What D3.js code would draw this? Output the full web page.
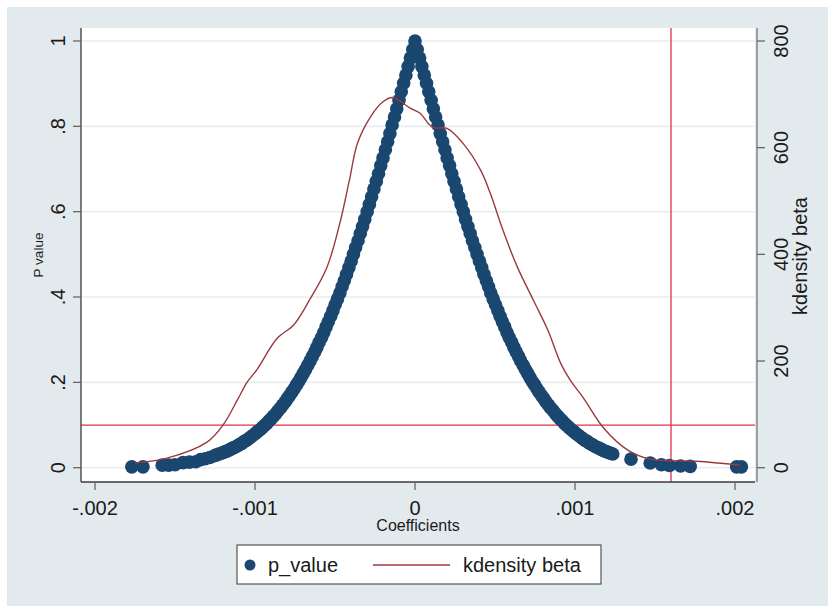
<!DOCTYPE html>
<html>
<head>
<meta charset="utf-8">
<script src="https://cdn.jsdelivr.net/npm/d3@7"></script>
<style>
  html, body { margin: 0; padding: 0; background: #ffffff; }
  svg { display: block; }
  text { font-family: "Liberation Sans", Arial, Helvetica, sans-serif; fill: #1a1a1a; }
</style>
</head>
<body>
<div id="chart"></div>
<script>
// ---------------- DATA ----------------
// p_value scatter: coefficient (beta) and its p value
const leftTailCoef = [-0.00177, -0.00170, -0.00158, -0.00154, -0.00150, -0.00145, -0.00141, -0.00137];
const leftTailP    = [0.002, 0.002, 0.006, 0.006, 0.007, 0.012, 0.013, 0.014];

const leftCoefMicro = [0,14,29,43,57,71,86,100,114,128,143,157,171,185,200,214,228,242,257,271,
  285,299,314,328,342,356,371,385,399,413,428,442,456,470,485,499,513,527,542,556,
  570,584,599,613,627,641,656,670,684,698,713,727,741,755,770,784,798,812,827,841,
  855,869,884,898,912,926,941,955,969,983,998,1012,1026,1040,1055,1069,1083,1097,1112,1126,
  1140,1154,1169,1183,1197,1211,1226,1240,1254,1283,1311,1340]; // |beta| x 1e-6, negative side
const leftP = [1.000,0.980,0.960,0.940,0.920,0.901,0.881,0.861,0.841,0.822,
  0.803,0.783,0.764,0.745,0.726,0.708,0.689,0.671,0.653,0.635,
  0.617,0.600,0.582,0.565,0.549,0.532,0.516,0.500,0.484,0.469,
  0.453,0.438,0.424,0.409,0.395,0.382,0.368,0.355,0.342,0.330,
  0.317,0.305,0.294,0.282,0.271,0.261,0.250,0.240,0.230,0.221,
  0.211,0.202,0.194,0.185,0.177,0.169,0.162,0.154,0.147,0.140,
  0.134,0.127,0.121,0.115,0.110,0.104,0.099,0.094,0.089,0.085,
  0.080,0.076,0.072,0.068,0.064,0.061,0.057,0.054,0.051,0.048,
  0.046,0.043,0.040,0.038,0.036,0.034,0.032,0.030,0.028,0.024,0.021,0.019];

const rightCoefMicro = [14,29,43,58,72,86,101,115,129,144,158,173,187,201,216,230,244,259,273,288,
  302,316,331,345,359,374,388,403,417,431,446,460,474,489,503,518,532,546,561,575,
  589,604,618,633,647,661,676,690,704,719,733,748,762,776,791,805,819,834,848,863,
  877,891,906,920,934,949,963,978,992,1006,1021,1035,1049,1064,1078,1093,1107,1121,1136,1150,
  1164,1179,1193,1208,1222,1236]; // beta x 1e-6, positive side
const rightP = [0.980,0.960,0.940,0.920,0.901,0.881,0.861,0.841,0.822,
  0.803,0.783,0.764,0.745,0.726,0.708,0.689,0.671,0.653,0.635,
  0.617,0.600,0.582,0.565,0.549,0.532,0.516,0.500,0.484,0.469,
  0.453,0.438,0.424,0.409,0.395,0.382,0.368,0.355,0.342,0.330,
  0.317,0.305,0.294,0.282,0.271,0.261,0.250,0.240,0.230,0.221,
  0.211,0.202,0.194,0.185,0.177,0.169,0.162,0.154,0.147,0.140,
  0.134,0.127,0.121,0.115,0.110,0.104,0.099,0.094,0.089,0.085,
  0.080,0.076,0.072,0.068,0.064,0.061,0.057,0.054,0.051,0.048,
  0.046,0.043,0.040,0.038,0.036,0.034,0.032];

const rightTailCoef = [0.00135, 0.00147, 0.00154, 0.00159, 0.00166, 0.00172, 0.00201, 0.00204];
const rightTailP    = [0.020, 0.011, 0.007, 0.005, 0.004, 0.003, 0.002, 0.002];

// kdensity of beta
const kdCoef = [-0.00175,-0.00155,-0.00130,-0.00120,-0.00111,-0.00105,-0.00099,-0.00086,-0.00076,-0.00066,
  -0.00055,-0.00047,-0.00041,-0.00036,-0.00028,-0.00020,-0.00014,-0.00003,0.00003,0.00011,
  0.00020,0.00030,0.00041,0.00047,0.00055,0.00064,0.00074,0.00083,0.00091,0.00097,
  0.00105,0.00118,0.00133,0.00147,0.00176,0.00203];
const kdDensity = [9,18,48,80,127,160,183,243,267,314,
  376,458,539,608,657,686,694,674,665,638,
  636,608,558,515,445,376,314,258,196,164,
  132,74,33,16,12,5];

// axes
const xTicks = [-0.002, -0.001, 0, 0.001, 0.002];
const xTickLabels = ["-.002", "-.001", "0", ".001", ".002"];
const yTicks = [0, 0.2, 0.4, 0.6, 0.8, 1];
const yTickLabels = ["0", ".2", ".4", ".6", ".8", "1"];
const y2Ticks = [0, 200, 400, 600, 800];
const y2TickLabels = ["0", "200", "400", "600", "800"];
const refP = 0.1;       // yline
const refCoef = 0.0016; // xline

// ---------------- BUILD ----------------
const points = [];
leftTailCoef.forEach((c, i) => points.push({ c, p: leftTailP[i] }));
leftCoefMicro.forEach((m, i) => points.push({ c: -m * 1e-6, p: leftP[i] }));
rightCoefMicro.forEach((m, i) => points.push({ c: m * 1e-6, p: rightP[i] }));
rightTailCoef.forEach((c, i) => points.push({ c, p: rightTailP[i] }));
const kd = kdCoef.map((c, i) => ({ c, d: kdDensity[i] }));

const W = 828, H = 611;
const plot = { left: 81, right: 755, top: 28, bottom: 482 };

const x = d3.scaleLinear().domain([-0.002, 0.002]).range([95, 735]);
const y = d3.scaleLinear().domain([0, 1]).range([467.7, 41]);
const y2 = d3.scaleLinear().domain([0, 800]).range([467.7, 41]);

const navy = "#1a476f", maroon = "#9a3a3f", red = "#e0304e";
const bg = "#e3eaee", grid = "#e6eef1";

const svg = d3.select("#chart").append("svg").attr("width", W).attr("height", H);

svg.append("rect").attr("x", 7).attr("y", 7).attr("width", W - 7).attr("height", 599).attr("fill", bg);
svg.append("rect").attr("x", plot.left).attr("y", plot.top)
  .attr("width", plot.right - plot.left).attr("height", plot.bottom - plot.top).attr("fill", "#ffffff");

// gridlines
svg.append("g").selectAll("line").data(yTicks).join("line")
  .attr("x1", plot.left).attr("x2", plot.right)
  .attr("y1", d => y(d)).attr("y2", d => y(d))
  .attr("stroke", grid).attr("stroke-width", 1.6);

// reference lines
svg.append("line").attr("x1", plot.left).attr("x2", plot.right)
  .attr("y1", y(refP)).attr("y2", y(refP)).attr("stroke", red).attr("stroke-width", 1.3);
svg.append("line").attr("x1", x(refCoef)).attr("x2", x(refCoef))
  .attr("y1", plot.top).attr("y2", plot.bottom).attr("stroke", red).attr("stroke-width", 1.3);

// scatter
svg.append("g").selectAll("circle").data(points).join("circle")
  .attr("cx", d => x(d.c)).attr("cy", d => y(d.p)).attr("r", 6.8).attr("fill", navy);

// kdensity line
const line = d3.line().x(d => x(d.c)).y(d => y2(d.d)).curve(d3.curveCatmullRom.alpha(0.5));
svg.append("path").datum(kd).attr("d", line).attr("fill", "none")
  .attr("stroke", maroon).attr("stroke-width", 1.4);

// axes lines
const axisCol = "#3a3a3a";
svg.append("line").attr("x1", plot.left).attr("x2", plot.left).attr("y1", plot.top).attr("y2", plot.bottom)
  .attr("stroke", axisCol).attr("stroke-width", 1.3);
svg.append("line").attr("x1", plot.left).attr("x2", plot.right).attr("y1", plot.bottom).attr("y2", plot.bottom)
  .attr("stroke", axisCol).attr("stroke-width", 1.3);
svg.append("line").attr("x1", 757).attr("x2", 757).attr("y1", plot.top).attr("y2", plot.bottom)
  .attr("stroke", "#777").attr("stroke-width", 1.3);

// left ticks & labels
const gl = svg.append("g");
gl.selectAll("line").data(yTicks).join("line")
  .attr("x1", 73).attr("x2", plot.left).attr("y1", d => y(d)).attr("y2", d => y(d))
  .attr("stroke", "#666").attr("stroke-width", 1.3);
gl.selectAll("text").data(yTicks).join("text")
  .attr("transform", d => `translate(65,${y(d)}) rotate(-90)`)
  .attr("text-anchor", "middle").attr("font-size", 20)
  .text((d, i) => yTickLabels[i]);

// right ticks & labels
const gr = svg.append("g");
gr.selectAll("line").data(y2Ticks).join("line")
  .attr("x1", 757).attr("x2", 765).attr("y1", d => y2(d)).attr("y2", d => y2(d))
  .attr("stroke", "#666").attr("stroke-width", 1.3);
gr.selectAll("text").data(y2Ticks).join("text")
  .attr("transform", d => `translate(788,${y2(d)}) rotate(-90)`)
  .attr("text-anchor", "middle").attr("font-size", 20)
  .text((d, i) => y2TickLabels[i]);

// bottom ticks & labels
const gb = svg.append("g");
gb.selectAll("line").data(xTicks).join("line")
  .attr("x1", d => x(d)).attr("x2", d => x(d)).attr("y1", plot.bottom).attr("y2", 490)
  .attr("stroke", "#666").attr("stroke-width", 1.3);
gb.selectAll("text").data(xTicks).join("text")
  .attr("x", d => x(d)).attr("y", 515)
  .attr("text-anchor", "middle").attr("font-size", 20)
  .text((d, i) => xTickLabels[i]);

// axis titles
svg.append("text").attr("x", 418).attr("y", 531).attr("text-anchor", "middle")
  .attr("font-size", 16).text("Coefficients");
svg.append("text").attr("transform", "translate(43,255) rotate(-90)").attr("text-anchor", "middle")
  .attr("font-size", 13.5).text("P value");
svg.append("text").attr("transform", "translate(807,256) rotate(-90)").attr("text-anchor", "middle")
  .attr("font-size", 20).text("kdensity beta");

// legend
const lg = svg.append("g");
lg.append("rect").attr("x", 237).attr("y", 545).attr("width", 364).attr("height", 39)
  .attr("fill", "#fff").attr("stroke", "#555").attr("stroke-width", 1.2);
lg.append("circle").attr("cx", 250).attr("cy", 565).attr("r", 5.5).attr("fill", navy);
lg.append("text").attr("x", 268).attr("y", 572).attr("font-size", 20).text("p_value");
lg.append("line").attr("x1", 373).attr("x2", 450).attr("y1", 565).attr("y2", 565)
  .attr("stroke", maroon).attr("stroke-width", 1.4);
lg.append("text").attr("x", 463).attr("y", 572).attr("font-size", 20).text("kdensity beta");
</script>
</body>
</html>
